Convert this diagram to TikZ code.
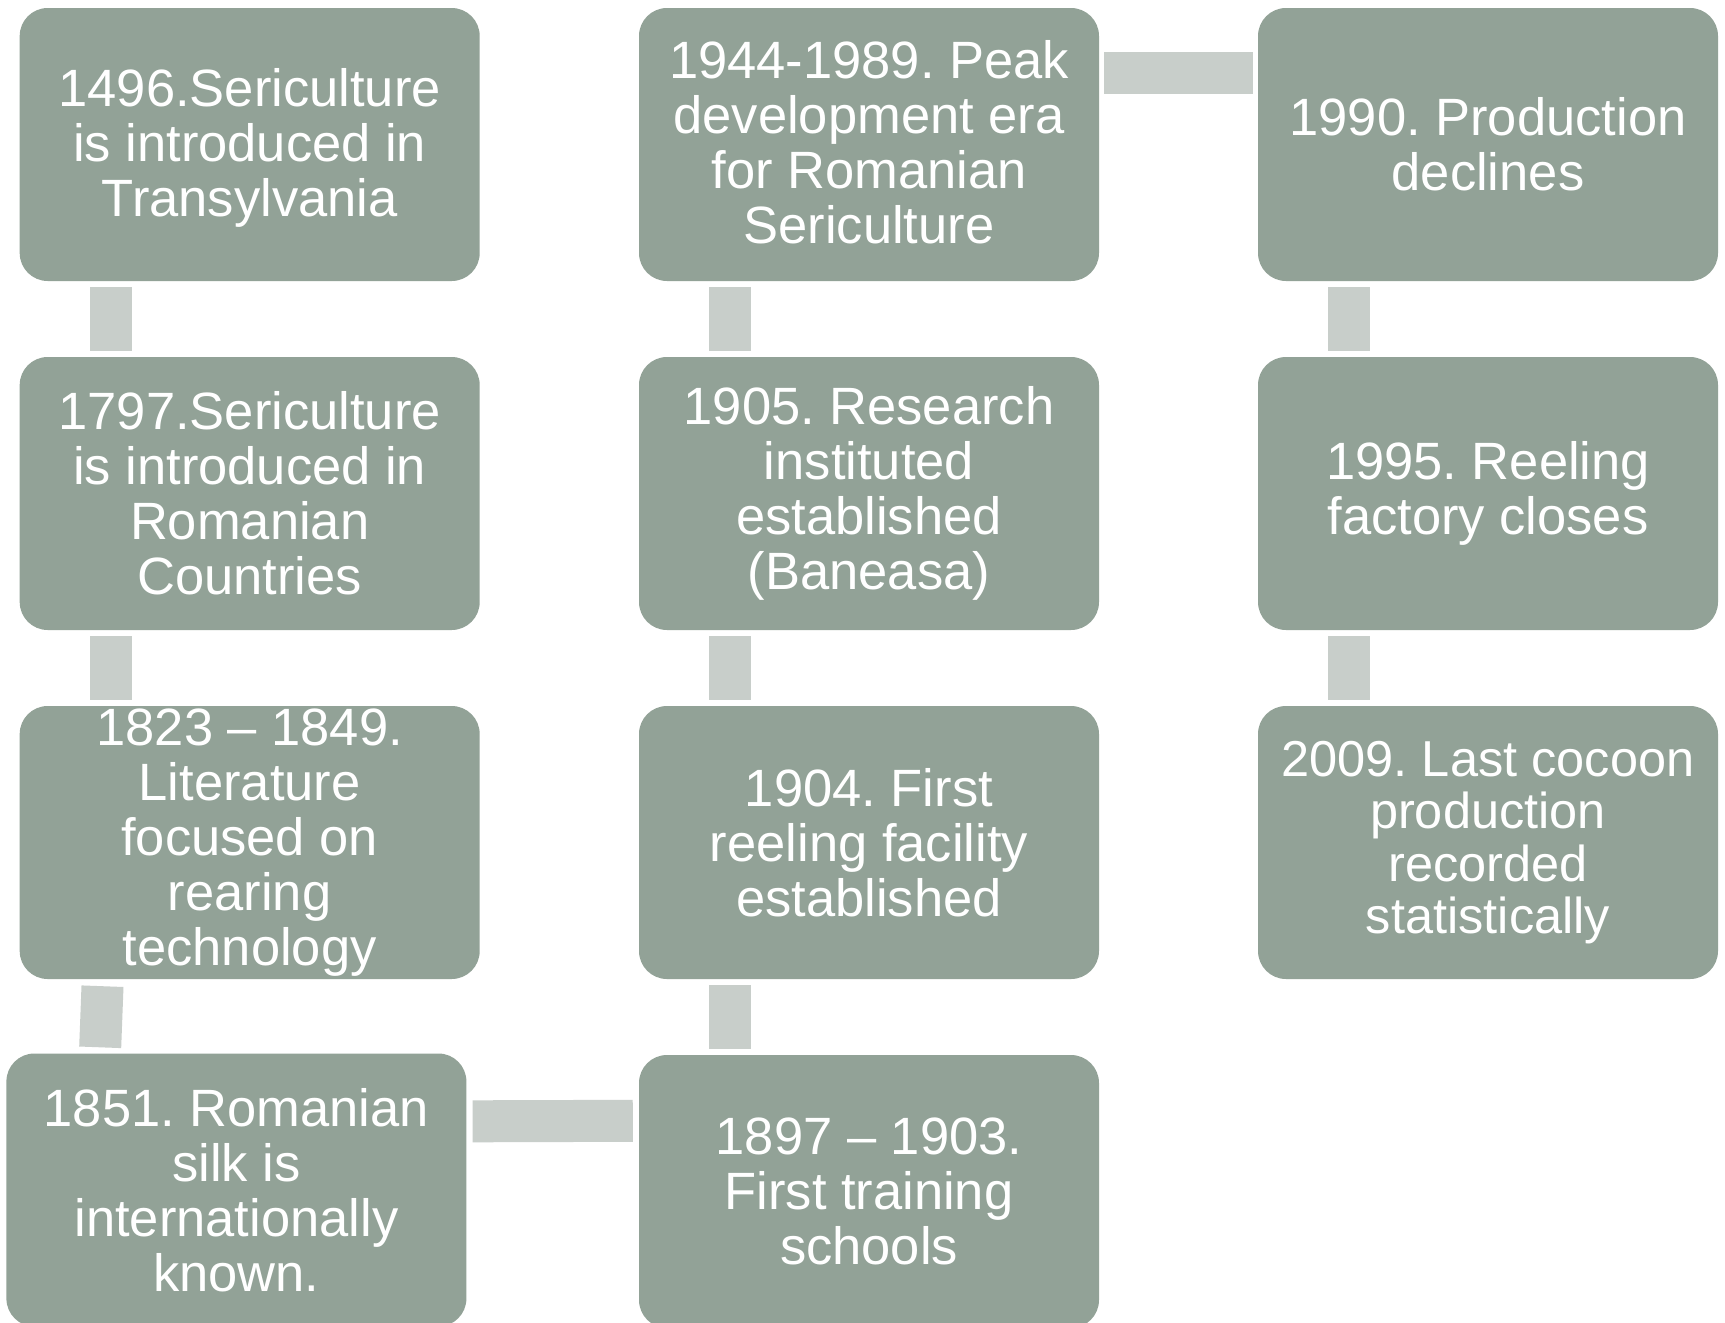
\documentclass[tikz,border=0pt]{standalone}
\usepackage{fontspec}
\setmainfont{Liberation Sans}
\frenchspacing
\definecolor{boxc}{HTML}{92A297}
\definecolor{connc}{HTML}{C8CECA}
\tikzset{
  evt/.style={rectangle, rounded corners=28pt, fill=boxc, draw=none,
    minimum width=460pt, minimum height=273pt, inner sep=0pt},
  txt/.style={text=white, inner sep=0pt, align=center,
    font=\fontsize{52.5}{55}\selectfont\frenchspacing},
  smalltxt/.style={txt, font=\fontsize{50.5}{52.5}\selectfont\frenchspacing},
  conn/.style={draw=connc, line width=42pt},
}
\begin{document}
\begin{tikzpicture}[x=1pt,y=1pt]
\useasboundingbox (0,0) rectangle (1725,-1323);
\fill[white] (0,0) rectangle (1725,-1323);
% column 1
\node[evt] (a1) at (249.7,-144.5) {};
\node[txt] (a1t) at ([yshift=-3pt]a1.center) {1496.Sericulture\\is introduced in\\Transylvania};
\node[evt] (a2) at (249.7,-493.5) {};
\node[txt] (a2t) at (a2.center) {1797.Sericulture\\is introduced in\\Romanian\\Countries};
\node[evt] (a3) at (249.7,-842.5) {};
\node[txt] (a3t) at (a3.center) {1823 -- 1849.\\Literature\\focused on\\rearing\\technology};
\node[evt] (a4) at (236.4,-1190) {};
\node[txt] (a4t) at (a4.center) {1851. Romanian\\silk is\\internationally\\known.};
% column 2
\node[evt] (b1) at (869,-144.5) {};
\node[txt] (b1t) at ([yshift=2pt]b1.center) {1944-1989. Peak\\development era\\for Romanian\\Sericulture};
\node[evt] (b2) at (869,-493.5) {};
\node[txt] (b2t) at (b2.center) {1905. Research\\instituted\\established\\(Baneasa)};
\node[evt] (b3) at (869,-842.5) {};
\node[txt] (b3t) at (b3.center) {1904. First\\reeling facility\\established};
\node[evt] (b4) at (869,-1191.5) {};
\node[txt] (b4t) at (b4.center) {1897 -- 1903.\\First training\\schools};
% column 3
\node[evt] (c1) at (1488,-144.5) {};
\node[txt] (c1t) at (c1.center) {1990. Production\\declines};
\node[evt] (c2) at (1488,-493.5) {};
\node[txt] (c2t) at (c2.center) {1995. Reeling\\factory closes};
\node[evt] (c3) at (1488,-842.5) {};
\node[smalltxt] (c3t) at (c3.center) {2009. Last cocoon\\production\\recorded\\statistically};
% connectors
\draw[conn] ([xshift=91pt,yshift=-6pt]a1.south west) -- ([xshift=91pt,yshift=6pt]a2.north west);
\draw[conn] ([xshift=91pt,yshift=-6pt]a2.south west) -- ([xshift=91pt,yshift=6pt]a3.north west);
\draw[conn] ([xshift=83pt,yshift=-7pt]a3.south west) -- ([xshift=94pt,yshift=6pt]a4.north west);
\draw[conn] ([xshift=6pt,yshift=-68pt]a4.north east) -- ([xshift=-6pt,yshift=-66pt]b4.north west);
\draw[conn] ([xshift=91pt,yshift=6pt]b4.north west) -- ([xshift=91pt,yshift=-6pt]b3.south west);
\draw[conn] ([xshift=91pt,yshift=6pt]b3.north west) -- ([xshift=91pt,yshift=-6pt]b2.south west);
\draw[conn] ([xshift=91pt,yshift=6pt]b2.north west) -- ([xshift=91pt,yshift=-6pt]b1.south west);
\draw[conn] ([xshift=5pt,yshift=-65pt]b1.north east) -- ([xshift=-5pt,yshift=-65pt]c1.north west);
\draw[conn] ([xshift=91.5pt,yshift=-6pt]c1.south west) -- ([xshift=91.5pt,yshift=6pt]c2.north west);
\draw[conn] ([xshift=91.5pt,yshift=-6pt]c2.south west) -- ([xshift=91.5pt,yshift=6pt]c3.north west);
\end{tikzpicture}
\end{document}
